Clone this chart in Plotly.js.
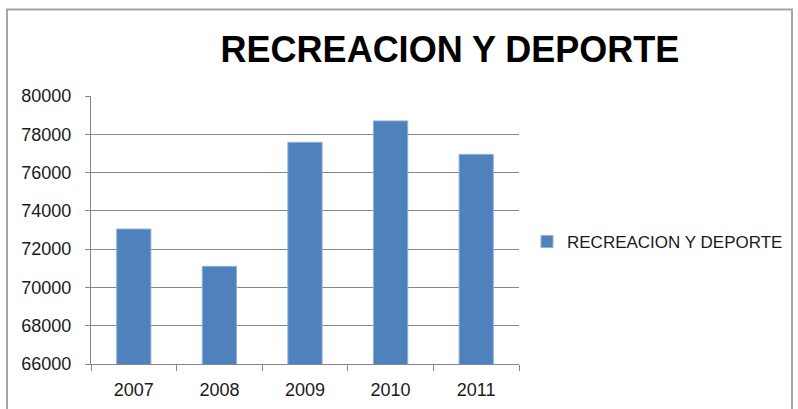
<!DOCTYPE html>
<html>
<head>
<meta charset="utf-8">
<script src="https://cdn.plot.ly/plotly-3.0.1.min.js"></script>
<style>
  html, body { margin: 0; padding: 0; background: #fff; }
  #chart { width: 798px; height: 409px; }
</style>
</head>
<body>
<div id="chart"></div>
<script>
const years = ['2007', '2008', '2009', '2010', '2011'];
const values = [73050, 71100, 77580, 78700, 76950];
const seriesName = 'RECREACION Y DEPORTE';
const chartTitle = 'RECREACION Y DEPORTE';
const yTicks = [66000, 68000, 70000, 72000, 74000, 76000, 78000, 80000];

const W = 798, H = 409;
const m = { l: 91, r: 279, t: 96, b: 45, autoexpand: false };
const pw = W - m.l - m.r, ph = H - m.t - m.b;
const px = x => (x - m.l) / pw;
const py = y => (H - m.b - y) / ph;

const trace = {
  type: 'bar',
  x: years,
  y: values,
  name: seriesName,
  marker: { color: '#4F81BD', line: { color: '#8fb0d8', width: 1 } },
  showlegend: true,
  hoverinfo: 'x+y'
};

const layout = {
  width: W, height: H,
  margin: m,
  paper_bgcolor: '#ffffff',
  plot_bgcolor: '#ffffff',
  font: { family: 'Liberation Sans, Arial, sans-serif', color: '#1a1a1a' },
  bargap: 0.6,
  title: {
    text: chartTitle,
    font: { family: 'Liberation Sans, Arial, sans-serif', size: 36, color: '#000', weight: 'bold' },
    xref: 'container', yref: 'container',
    x: 450 / W, xanchor: 'center',
    y: 1 - 49 / H, yanchor: 'middle'
  },
  xaxis: {
    type: 'category',
    showline: true, linecolor: '#868686', linewidth: 1,
    ticks: 'outside', tickson: 'boundaries', ticklen: 6, tickcolor: '#868686', tickwidth: 1,
    tickfont: { size: 18, color: '#1a1a1a' },
    ticklabelstandoff: 9,
    showgrid: false, zeroline: false
  },
  yaxis: {
    range: [66000, 80000],
    tickvals: yTicks,
    ticktext: yTicks.map(String),
    showline: true, linecolor: '#868686', linewidth: 1,
    ticks: 'outside', ticklen: 5, tickcolor: '#868686', tickwidth: 1,
    tickfont: { size: 18, color: '#1a1a1a' },
    ticklabelstandoff: 10,
    showgrid: true, gridcolor: '#868686', gridwidth: 1,
    zeroline: false
  },
  legend: {
    x: px(527), xanchor: 'left',
    y: py(242), yanchor: 'middle',
    font: { size: 17, color: '#1a1a1a' },
    bgcolor: 'rgba(0,0,0,0)',
    borderwidth: 0
  },
  shapes: [{
    type: 'rect', xref: 'paper', yref: 'paper',
    x0: px(7), x1: px(792), y0: py(430), y1: py(9.5),
    line: { color: '#a6a6a6', width: 2 },
    fillcolor: 'rgba(0,0,0,0)',
    layer: 'below'
  }]
};

Plotly.newPlot('chart', [trace], layout, { displayModeBar: false, staticPlot: true });
</script>
</body>
</html>
